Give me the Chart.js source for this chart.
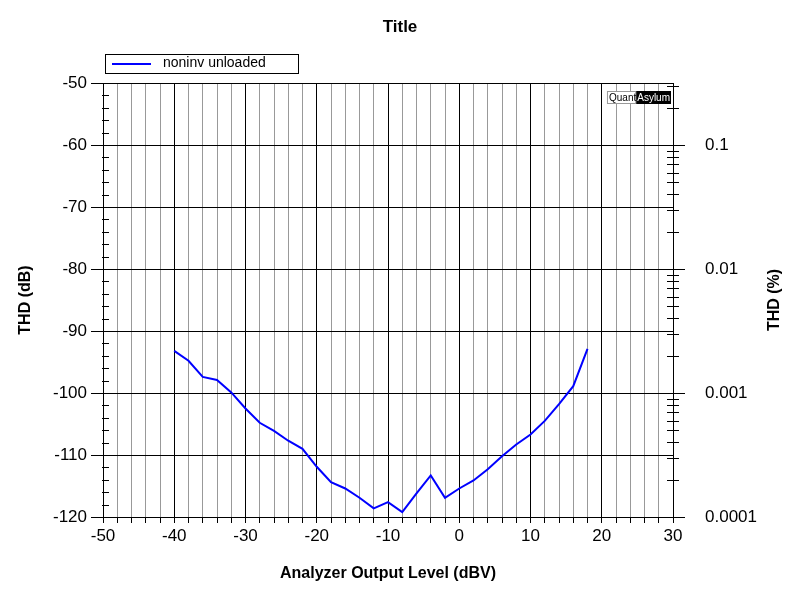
<!DOCTYPE html>
<html>
<head>
<meta charset="utf-8">
<script src="https://cdn.jsdelivr.net/npm/chart.js@4/dist/chart.umd.min.js"></script>
<style>
  body { margin: 0; background: #fff; }
  #wrap { width: 800px; height: 600px; }
</style>
</head>
<body>
<div id="wrap"><canvas id="chart"></canvas></div>
<script>
const levels = [-40, -38, -36, -34, -32, -30, -28, -26, -24, -22, -20, -18, -16, -14, -12, -10, -8, -6, -4, -2, 0, 2, 4, 6, 8, 10, 12, 14, 16, 18];
const thdDb = [-93.2, -94.8, -97.4, -97.9, -99.9, -102.5, -104.8, -106.1, -107.7, -109.0, -111.9, -114.4, -115.4, -116.9, -118.6, -117.6, -119.2, -116.2, -113.3, -116.9, -115.4, -114.1, -112.3, -110.2, -108.3, -106.7, -104.5, -101.8, -98.9, -92.9];
const pctTicks = [-60, -80, -100, -120];
const pctLabels = ["0.1", "0.01", "0.001", "0.0001"];
const seriesName = "noninv unloaded";

const font = "Arial, 'Liberation Sans', sans-serif";

function vText(ctx, text, x, y) {
  ctx.save();
  ctx.translate(x, y);
  ctx.rotate(-Math.PI / 2);
  ctx.fillText(text, 0, 0);
  ctx.restore();
}

const decor = {
  id: "decor",
  afterDraw(chart) {
    const { ctx, chartArea: a } = chart;
    const y = chart.scales.y;
    ctx.save();
    ctx.strokeStyle = "#000";
    ctx.lineWidth = 1;
    // left minor ticks every 2 dB
    for (let v = -118; v < -50; v += 2) {
      if (v % 10 === 0) continue;
      const py = Math.round(y.getPixelForValue(v)) + 0.5;
      ctx.beginPath(); ctx.moveTo(a.left - 1, py); ctx.lineTo(a.left + 6, py); ctx.stroke();
    }
    // right log minor ticks
    for (let d = -120; d < -50; d += 20) {
      for (let k = 2; k <= 9; k++) {
        const v = d + 20 * Math.log10(k);
        if (v > -50) continue;
        const py = Math.round(y.getPixelForValue(v)) + 0.5;
        ctx.beginPath(); ctx.moveTo(a.right - 6, py); ctx.lineTo(a.right + 6, py); ctx.stroke();
      }
    }
    ctx.fillStyle = "#000";
    ctx.textAlign = "center"; ctx.textBaseline = "middle";
    ctx.font = "bold 17px " + font;
    ctx.fillText("Title", 400, 27);
    // axis titles
    ctx.font = "bold 16px " + font;
    ctx.fillText("Analyzer Output Level (dBV)", 388, 574);
    vText(ctx, "THD (dB)", 26, 300);
    vText(ctx, "THD (%)", 775, 300);
    // legend
    ctx.fillStyle = "#fff";
    ctx.fillRect(105.5, 54.5, 193, 19);
    ctx.strokeRect(105.5, 54.5, 193, 19);
    ctx.strokeStyle = "#0000ff"; ctx.lineWidth = 2;
    ctx.beginPath(); ctx.moveTo(112, 64); ctx.lineTo(151, 64); ctx.stroke();
    ctx.fillStyle = "#000";
    ctx.font = "14px " + font;
    ctx.textAlign = "left";
    ctx.fillText(seriesName, 163, 63);
    // watermark
    ctx.font = "10px " + font;
    const w1 = ctx.measureText("Quant").width;
    const w2 = ctx.measureText("Asylum").width;
    const x0 = a.right - w1 - w2 - 4;
    ctx.fillStyle = "#fff"; ctx.fillRect(x0 - 1, 91, w1 + 1, 12);
    ctx.strokeStyle = "#999"; ctx.lineWidth = 1; ctx.strokeRect(x0 - 1.5, 91.5, w1 + 1, 12);
    ctx.fillStyle = "#000"; ctx.fillText("Quant", x0, 98);
    ctx.fillRect(x0 + w1, 91, w2 + 2, 13);
    ctx.fillStyle = "#fff"; ctx.fillText("Asylum", x0 + w1 + 1, 98);
    ctx.restore();
  }
};

new Chart(document.getElementById("chart"), {
  type: "line",
  data: {
    datasets: [{
      label: seriesName,
      data: levels.map((x, i) => ({ x, y: thdDb[i] })),
      borderColor: "#0000ff",
      borderWidth: 2,
      pointRadius: 0,
      tension: 0,
    }],
  },
  options: {
    responsive: true,
    maintainAspectRatio: false,
    animation: false,
    layout: { padding: { top: 83, left: 0, right: 0, bottom: 0 } },
    plugins: { legend: { display: false }, title: { display: false }, tooltip: { enabled: false } },
    scales: {
      x: {
        type: "linear", min: -50, max: 30,
        afterFit: (s) => { s.height = 83; },
        ticks: {
          stepSize: 2, autoSkip: false, maxRotation: 0, color: "#000",
          font: { size: 17, family: font },
          callback: (v) => (v % 10 === 0 ? v : ""),
        },
        grid: {
          color: (c) => (c.tick && c.tick.value % 10 === 0 ? "#000" : "#999"),
          tickColor: "#000", tickLength: 6,
        },
        border: { color: "#000" },
      },
      y: {
        type: "linear", min: -120, max: -50, position: "left",
        afterFit: (s) => { s.width = 103; },
        ticks: { stepSize: 10, color: "#000", font: { size: 17, family: font }, padding: 4 },
        grid: { color: "#000", tickColor: "#000", tickLength: 12 },
        border: { color: "#000" },
      },
      y2: {
        type: "linear", min: -120, max: -50, position: "right",
        afterFit: (s) => { s.width = 127; },
        afterBuildTicks: (s) => { s.ticks = pctTicks.map((value) => ({ value })); },
        ticks: {
          color: "#000", font: { size: 17, family: font }, padding: 20, align: "center",
          callback: (v) => pctLabels[pctTicks.indexOf(v)] ?? "",
        },
        grid: { drawOnChartArea: false, tickColor: "#000", tickLength: 12 },
        border: { color: "#000" },
      },
    },
  },
  plugins: [decor],
});
</script>
</body>
</html>
